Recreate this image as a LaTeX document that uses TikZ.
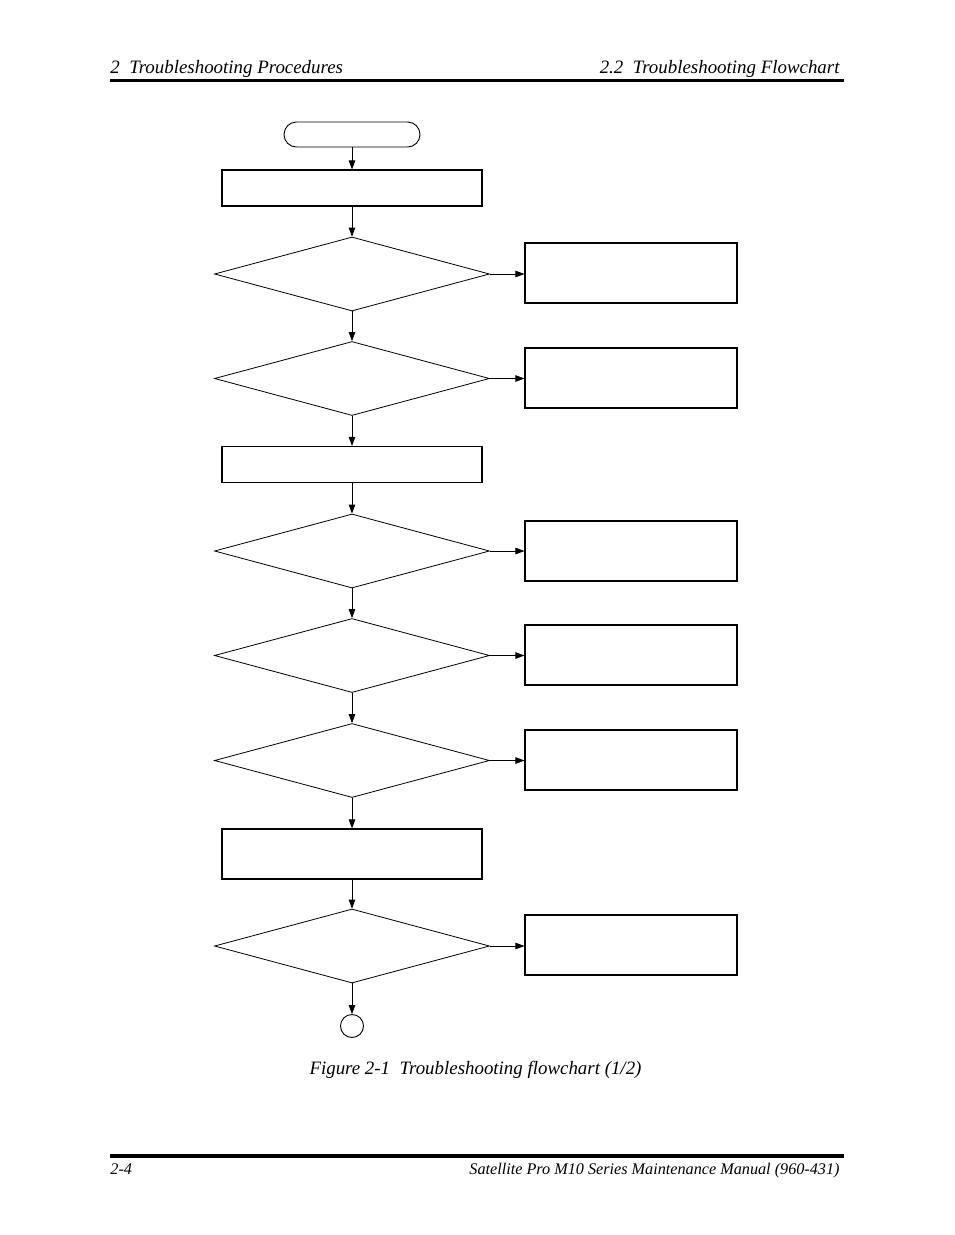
\documentclass[tikz,border=0pt]{standalone}
\usepackage{fontspec}
\setmainfont{Liberation Serif}
\usetikzlibrary{shapes.geometric,arrows.meta}
\begin{document}
\begin{tikzpicture}[x=1pt,y=-1pt,
  line width=0.9pt,
  arr/.style={-{Triangle[length=9pt,width=6.5pt]},line width=0.8pt},
  procbox/.style={draw,rectangle,line width=1.1pt,minimum width=260pt,minimum height=36pt,inner sep=0pt},
  sidebox/.style={draw,rectangle,line width=1.1pt,minimum width=212pt,minimum height=60pt,inner sep=0pt},
  decision/.style={draw,diamond,aspect=3.72,minimum width=275pt,minimum height=74pt,inner sep=0pt,line width=0.8pt},
  term/.style={draw,rounded corners=12.5pt,minimum width=136pt,minimum height=25pt,inner sep=0pt,line width=0.9pt},
  rulebar/.style={line width=3.2pt},
  hdr/.style={font=\fontsize{18.9}{22}\selectfont\itshape,inner sep=0pt}
]
\useasboundingbox (0,0) rectangle (954,1235);
% header / footer
\node[hdr,anchor=base west] (hl) at (110,73) {2\ \ Troubleshooting Procedures};
\node[hdr,anchor=base east] (hr) at (840,73) {2.2\ \ Troubleshooting Flowchart};
\coordinate (h1) at (110,80.5); \coordinate (h2) at (844,80.5);
\draw[rulebar] (h1) -- (h2);
\coordinate (f1) at (110,1156); \coordinate (f2) at (844,1156);
\draw[rulebar] (f1) -- (f2);
\node[font=\fontsize{16.2}{19}\selectfont\itshape,inner sep=0pt,anchor=base west] (fl) at (110,1174) {2-4};
\node[font=\fontsize{16.2}{19}\selectfont\itshape,inner sep=0pt,anchor=base east] (fr) at (840,1174) {Satellite Pro M10 Series Maintenance Manual (960-431)};
\node[hdr,anchor=base] (cap) at (475.5,1074) {Figure 2-1\ \ Troubleshooting flowchart (1/2)};
% flowchart
\node[term] (start) at (352,134.5) {};
\node[procbox] (b1) at (352,188) {};
\node[decision] (d1) at (352,274) {};
\node[sidebox] (s1) at (631,273) {};
\node[decision] (d2) at (352,378.5) {};
\node[sidebox] (s2) at (631,378) {};
\node[procbox] (b2) at (352,464.5) {};
\node[decision] (d3) at (352,551) {};
\node[sidebox] (s3) at (631,551) {};
\node[decision] (d4) at (352,655.5) {};
\node[sidebox] (s4) at (631,655) {};
\node[decision] (d5) at (352,760.5) {};
\node[sidebox] (s5) at (631,760) {};
\node[procbox,minimum height=50pt] (b3) at (352,854) {};
\node[decision] (d6) at (352,946) {};
\node[sidebox] (s6) at (631,945) {};
\node[draw,circle,minimum size=23pt,inner sep=0pt,line width=0.9pt] (c1) at (352,1026) {};
\draw[arr] (start) -- (b1);
\draw[arr] (b1) -- (d1);
\draw[arr] (d1) -- (d2);
\draw[arr] (d2) -- (b2);
\draw[arr] (b2) -- (d3);
\draw[arr] (d3) -- (d4);
\draw[arr] (d4) -- (d5);
\draw[arr] (d5) -- (b3);
\draw[arr] (b3) -- (d6);
\draw[arr] (d6) -- (c1);
\foreach \i in {1,...,6} { \draw[arr] (d\i.east) -- (d\i.east -| s\i.west); }
\end{tikzpicture}
\end{document}
